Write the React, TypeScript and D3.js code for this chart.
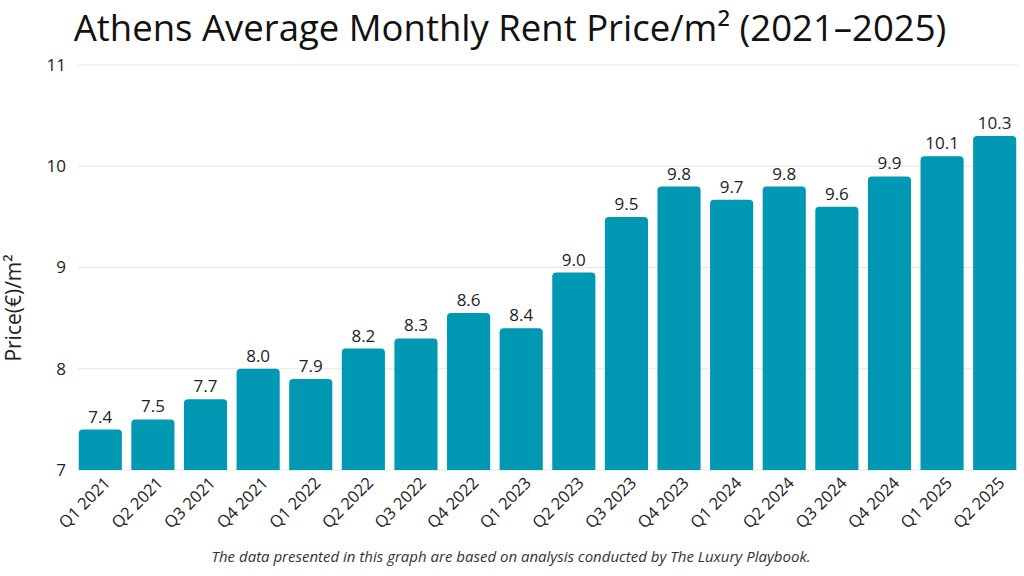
import * as d3 from 'd3';

const quarters = [
  'Q1 2021', 'Q2 2021', 'Q3 2021', 'Q4 2021',
  'Q1 2022', 'Q2 2022', 'Q3 2022', 'Q4 2022',
  'Q1 2023', 'Q2 2023', 'Q3 2023', 'Q4 2023',
  'Q1 2024', 'Q2 2024', 'Q3 2024', 'Q4 2024',
  'Q1 2025', 'Q2 2025'
];
const prices = [
  7.4, 7.5, 7.7, 8.0,
  7.9, 8.2, 8.3, 8.55,
  8.4, 8.95, 9.5, 9.8,
  9.67, 9.8, 9.6, 9.9,
  10.1, 10.3
];
const priceLabels = [
  '7.4', '7.5', '7.7', '8.0',
  '7.9', '8.2', '8.3', '8.6',
  '8.4', '9.0', '9.5', '9.8',
  '9.7', '9.8', '9.6', '9.9',
  '10.1', '10.3'
];
const yTicks = [7, 8, 9, 10, 11];

const width = 1024;
const height = 576;
const font = "'Open Sans', 'DejaVu Sans', sans-serif";
const barColor = '#0098b2';

function topRounded(x: number, y: number, w: number, h: number, r: number) {
  const rr = Math.min(r, h, w / 2);
  return `M${x},${y + h}V${y + rr}Q${x},${y} ${x + rr},${y}H${x + w - rr}Q${x + w},${y} ${x + w},${y + rr}V${y + h}Z`;
}

export default function App() {
  const x = d3.scaleBand<string>()
    .domain(quarters)
    .range([74, 1021])
    .paddingInner(0.18)
    .paddingOuter(0.09);
  const y = d3.scaleLinear().domain([7, 11]).range([470, 65]);

  return (
    <svg width={width} height={height} style={{ display: 'block', position: 'absolute', left: 0, top: 0, background: '#fff' }}>
      <text x={510} y={41} textAnchor="middle" fontFamily={font} fontSize={36.5} fill="#111">
        Athens Average Monthly Rent Price/m² (2021–2025)
      </text>

      {yTicks.map((t) => (
        <g key={t}>
          <line x1={78} x2={1018} y1={y(t)} y2={y(t)} stroke="#e6e6e6" strokeWidth={1} />
          <text x={66} y={y(t)} dy="0.35em" textAnchor="end" fontFamily={font} fontSize={17} fill="#222">
            {t}
          </text>
        </g>
      ))}

      <text
        transform={`translate(21,308) rotate(-90)`}
        textAnchor="middle"
        fontFamily={font}
        fontSize={21}
        fill="#222"
      >
        Price(€)/m²
      </text>

      {quarters.map((q, i) => {
        const bx = x(q) ?? 0;
        const bw = x.bandwidth();
        const by = y(prices[i]);
        const cx = bx + bw / 2;
        return (
          <g key={q}>
            <path d={topRounded(bx, by, bw, y(7) - by, 4)} fill={barColor} />
            <text x={cx} y={by - 7} textAnchor="middle" fontFamily={font} fontSize={17} fill="#222">
              {priceLabels[i]}
            </text>
            <text
              transform={`translate(${cx + 11},484) rotate(-45)`}
              textAnchor="end"
              fontFamily={font}
              fontSize={16.5}
              fill="#222"
            >
              {q}
            </text>
          </g>
        );
      })}

      <text x={511} y={562} textAnchor="middle" fontFamily={font} fontStyle="italic" fontSize={15} fill="#333">
        The data presented in this graph are based on analysis conducted by The Luxury Playbook.
      </text>
    </svg>
  );
}
